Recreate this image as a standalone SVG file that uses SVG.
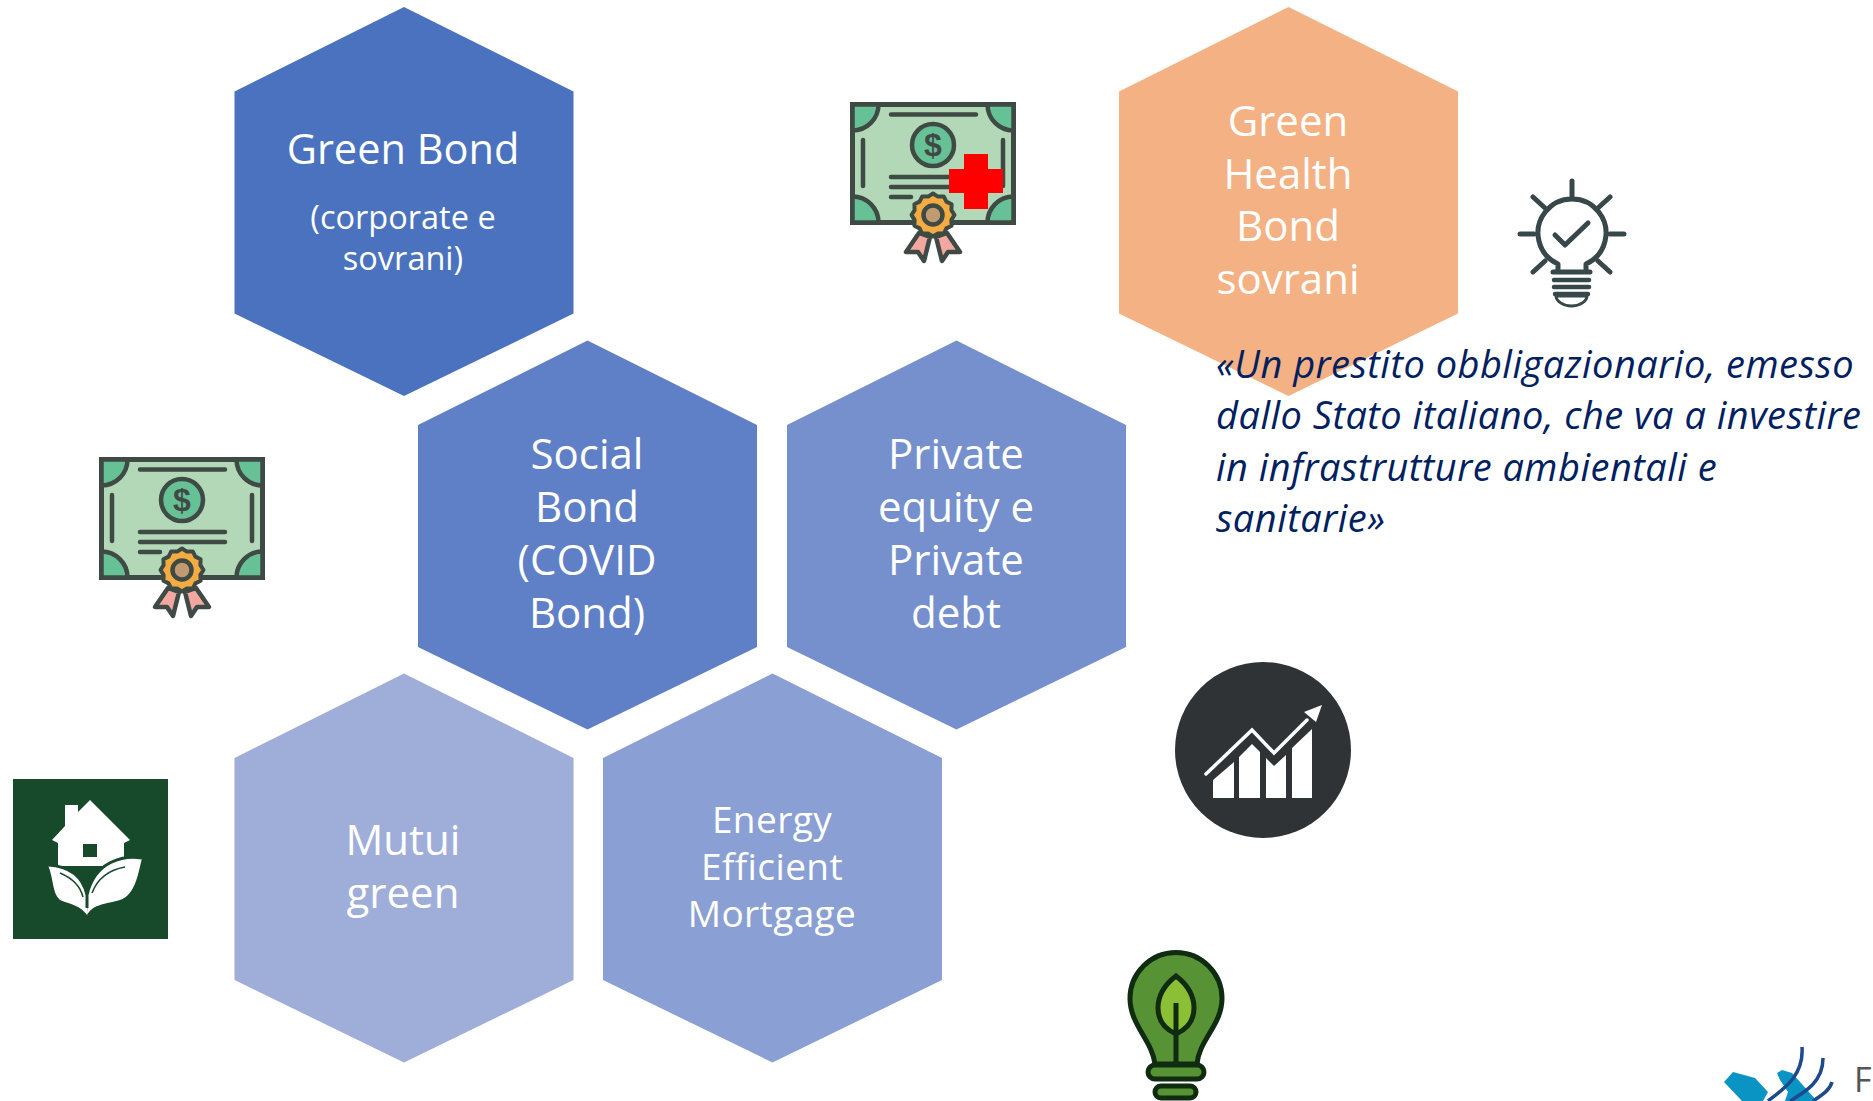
<svg xmlns="http://www.w3.org/2000/svg" width="1873" height="1101" viewBox="0 0 1873 1101">
<style>
.t{font-family:"Open Sans","Noto Sans",sans-serif;fill:#fff;text-anchor:middle;font-size:42px}
.s{font-size:32.500px}
.e{font-size:37px;letter-spacing:.4px}
.q{font-family:"Open Sans","Noto Sans",sans-serif;fill:#002060;font-style:italic;font-size:38px;letter-spacing:.48px}
.d{fill:none;stroke:#37474a;stroke-width:5;stroke-linecap:round;stroke-linejoin:round}
.l{stroke:#0f2b10;stroke-width:5}
</style>
<defs>
<polygon id="hex" points="0,-194.500 169.500,-110 169.500,112 0,194.500 -169.500,112 -169.500,-110"/>
<g id="cert">
<rect x="101.500" y="459.500" width="161" height="118" fill="#b2d8b7" stroke="#3f4a45" stroke-width="5"/>
<path d="M101.500 459.500h26a26 26 0 0 1-26 26zM262.500 459.500h-26a26 26 0 0 0 26 26zM101.500 577.500h26a26 26 0 0 0-26-26zM262.500 577.500h-26a26 26 0 0 1 26-26z" fill="#66c296" stroke="#3f4a45" stroke-width="4.500"/>
<path d="M140 469.500h85M112 495v46M252 495v46M140 532h85M140 542h85M140 552h20" fill="none" stroke="#3f4a45" stroke-width="4.500" stroke-linecap="round"/>
<circle cx="182" cy="500" r="21" fill="#66c296" stroke="#3f4a45" stroke-width="4.500"/>
<text x="182" y="511" font-family="'Liberation Sans',sans-serif" font-size="32" font-weight="bold" fill="#3f4a45" text-anchor="middle">$</text>
<path d="M168 588L155 607 167 607 173 616 179 592zM196 588L209 607 197 607 191 616 185 592z" fill="#f2a8a0" stroke="#3f4a45" stroke-width="4.500" stroke-linejoin="round"/>
<polygon transform="translate(182 570)" points="21.500,0 18.400,4.900 18.600,10.750 13.400,13.400 10.750,18.600 4.900,18.400 0,21.500 -4.900,18.400 -10.750,18.600 -13.400,13.400 -18.600,10.750 -18.400,4.900 -21.500,0 -18.400,-4.900 -18.600,-10.750 -13.400,-13.400 -10.750,-18.600 -4.900,-18.400 0,-21.500 4.900,-18.400 10.750,-18.600 13.400,-13.400 18.600,-10.750 18.400,-4.900" fill="#f4ac42" stroke="#3f4a45" stroke-width="4" stroke-linejoin="round"/>
<circle cx="182" cy="570" r="9.500" fill="#c09a70" stroke="#3f4a45" stroke-width="4.500"/>
</g>
</defs>
<rect width="1873" height="1101" fill="#fff"/>
<g id="connectors"/>
<g id="green-bond"><use href="#hex" x="404" y="201.500" fill="#4a72be"/>
<text class="t" x="403" y="164" style="font-size:41.500px">Green Bond</text>
<text class="t s" x="403" y="229">(corporate e</text>
<text class="t s" x="403" y="270">sovrani)</text></g>
<g id="green-health-bond"><use href="#hex" x="1288.500" y="201.500" fill="#f4b183"/>
<text class="t" x="1288" y="136">Green</text><text class="t" x="1288" y="189">Health</text><text class="t" x="1288" y="241">Bond</text><text class="t" x="1288" y="294">sovrani</text></g>
<g id="social-bond"><use href="#hex" x="587.500" y="535" fill="#5f7fc6"/>
<text class="t" x="587" y="469">Social</text><text class="t" x="587" y="522">Bond</text><text class="t" x="587" y="575">(COVID</text><text class="t" x="587" y="628">Bond)</text></g>
<g id="private-equity"><use href="#hex" x="956.500" y="535" fill="#7590cd"/>
<text class="t" x="956" y="469">Private</text><text class="t" x="956" y="522">equity e</text><text class="t" x="956" y="575">Private</text><text class="t" x="956" y="628">debt</text></g>
<g id="mutui-green"><use href="#hex" x="404" y="868" fill="#9fadd9"/>
<text class="t" x="403" y="855">Mutui</text><text class="t" x="403" y="908">green</text></g>
<g id="energy-efficient"><use href="#hex" x="772.500" y="868" fill="#8a9fd3"/>
<text class="t e" x="772" y="833">Energy</text><text class="t e" x="772" y="880">Efficient</text><text class="t e" x="772" y="927">Mortgage</text></g>
<g id="quote">
<text class="q" x="1216" y="378">«Un prestito obbligazionario, emesso</text>
<text class="q" x="1216" y="429">dallo Stato italiano, che va a investire</text>
<text class="q" x="1216" y="481">in infrastrutture ambientali e</text>
<text class="q" x="1216" y="532">sanitarie»</text></g>
<g id="icon-cert-left"><use href="#cert"/></g>
<g id="icon-cert-health"><use href="#cert" x="751" y="-355"/>
<path d="M964 154h24v15h15v24h-15v16h-24v-16h-15v-24h15z" fill="#f00"/></g>
<g id="icon-bulb-check" class="d">
<path d="M1572 181v15M1533 197l12 11M1610 197l-12 11M1520 234h14M1610 234h14M1533 272l12-11M1610 272l-12-11"/>
<path d="M1558 272V264A34 34 0 1 1 1586 264V272M1553 272H1590"/>
<path d="M1555 235l10 10 23-22"/>
<path d="M1554 280h35M1554 287h35M1555 294h33" style="stroke-width:4.500"/>
<path d="M1556 296h31c0 5-7 10-15.500 10s-15.500-5-15.500-10z" style="stroke-width:3"/>
</g>
<g id="icon-house">
<rect x="13" y="779" width="155" height="160" fill="#17492b"/>
<path d="M90 800L130 840 124 843V866H58V843L52 840 65 826V805H78V812z" fill="#fff"/>
<rect x="83" y="844" width="14" height="13" fill="#17492b"/>
<path d="M48 865C65 866 82 872 87 895L87 915C80 905 72 905 60 900 52 893 54 880 48 865Z" fill="#fff"/>
<path d="M142 858C125 855 95 860 88 890L87 915C93 905 100 905 120 900 135 895 138 875 142 858Z" fill="#fff"/>
<path d="M48 865C65 866 82 872 87 895V908M142 858C125 855 95 860 87 895" fill="none" stroke="#17492b" stroke-width="3"/>
<path d="M60 873C72 878 80 885 83 897M125 867C108 870 97 880 92 893" fill="none" stroke="#17492b" stroke-width="1.500"/>
</g>
<g id="icon-chart">
<circle cx="1263" cy="750" r="88" fill="#2f3336"/>
<path d="M1213 798V780L1234 762V798zM1239 798V757L1252 744 1260 752V798zM1266 798V758L1274 766 1286 755V798zM1292 798V748L1312 729V798z" fill="#fff"/>
<path d="M1206 774L1252 730 1274 753 1307 720" fill="none" stroke="#fff" stroke-width="3.500" stroke-linecap="round"/>
<path d="M1322 705L1304 712 1316 722z" fill="#fff"/>
</g>
<g id="icon-leaf-bulb">
<path class="l" d="M1155 1064C1152 1040 1130 1025 1130 998.500A46 46 0 0 1 1222 998.500C1222 1025 1199 1040 1197 1064Z" fill="#579234"/>
<rect class="l" x="1148" y="1065" width="56" height="14" rx="7" fill="#579234"/>
<rect class="l" x="1155" y="1086" width="41" height="12" rx="6" fill="#579234"/>
<path class="l" d="M1176 976C1163 986 1158 998 1158 1008 1158 1022 1167 1030 1176 1034 1185 1030 1194 1022 1194 1008 1194 998 1189 986 1176 976Z" fill="#8bbf35"/>
<path class="l" d="M1176 1003V1064" fill="none"/>
</g>
<g id="icon-logo">
<path d="M1724 1082L1733 1072 1755 1078 1768 1092 1763 1101H1742z" fill="#0a94c4"/>
<path d="M1777 1073L1782 1070 1792 1073 1817 1101H1785L1788 1092 1780 1080z" fill="#0a94c4"/>
<path d="M1768 1101C1785 1088 1804 1075 1802 1047M1790 1101C1805 1092 1823 1082 1823 1058M1813 1101C1822 1095 1830 1090 1832 1082" fill="none" stroke="#1c4a8c" stroke-width="3.500"/>
<text x="1854" y="1092" font-family="'Open Sans',sans-serif" font-size="34" fill="#555">F</text>
</g>
</svg>
